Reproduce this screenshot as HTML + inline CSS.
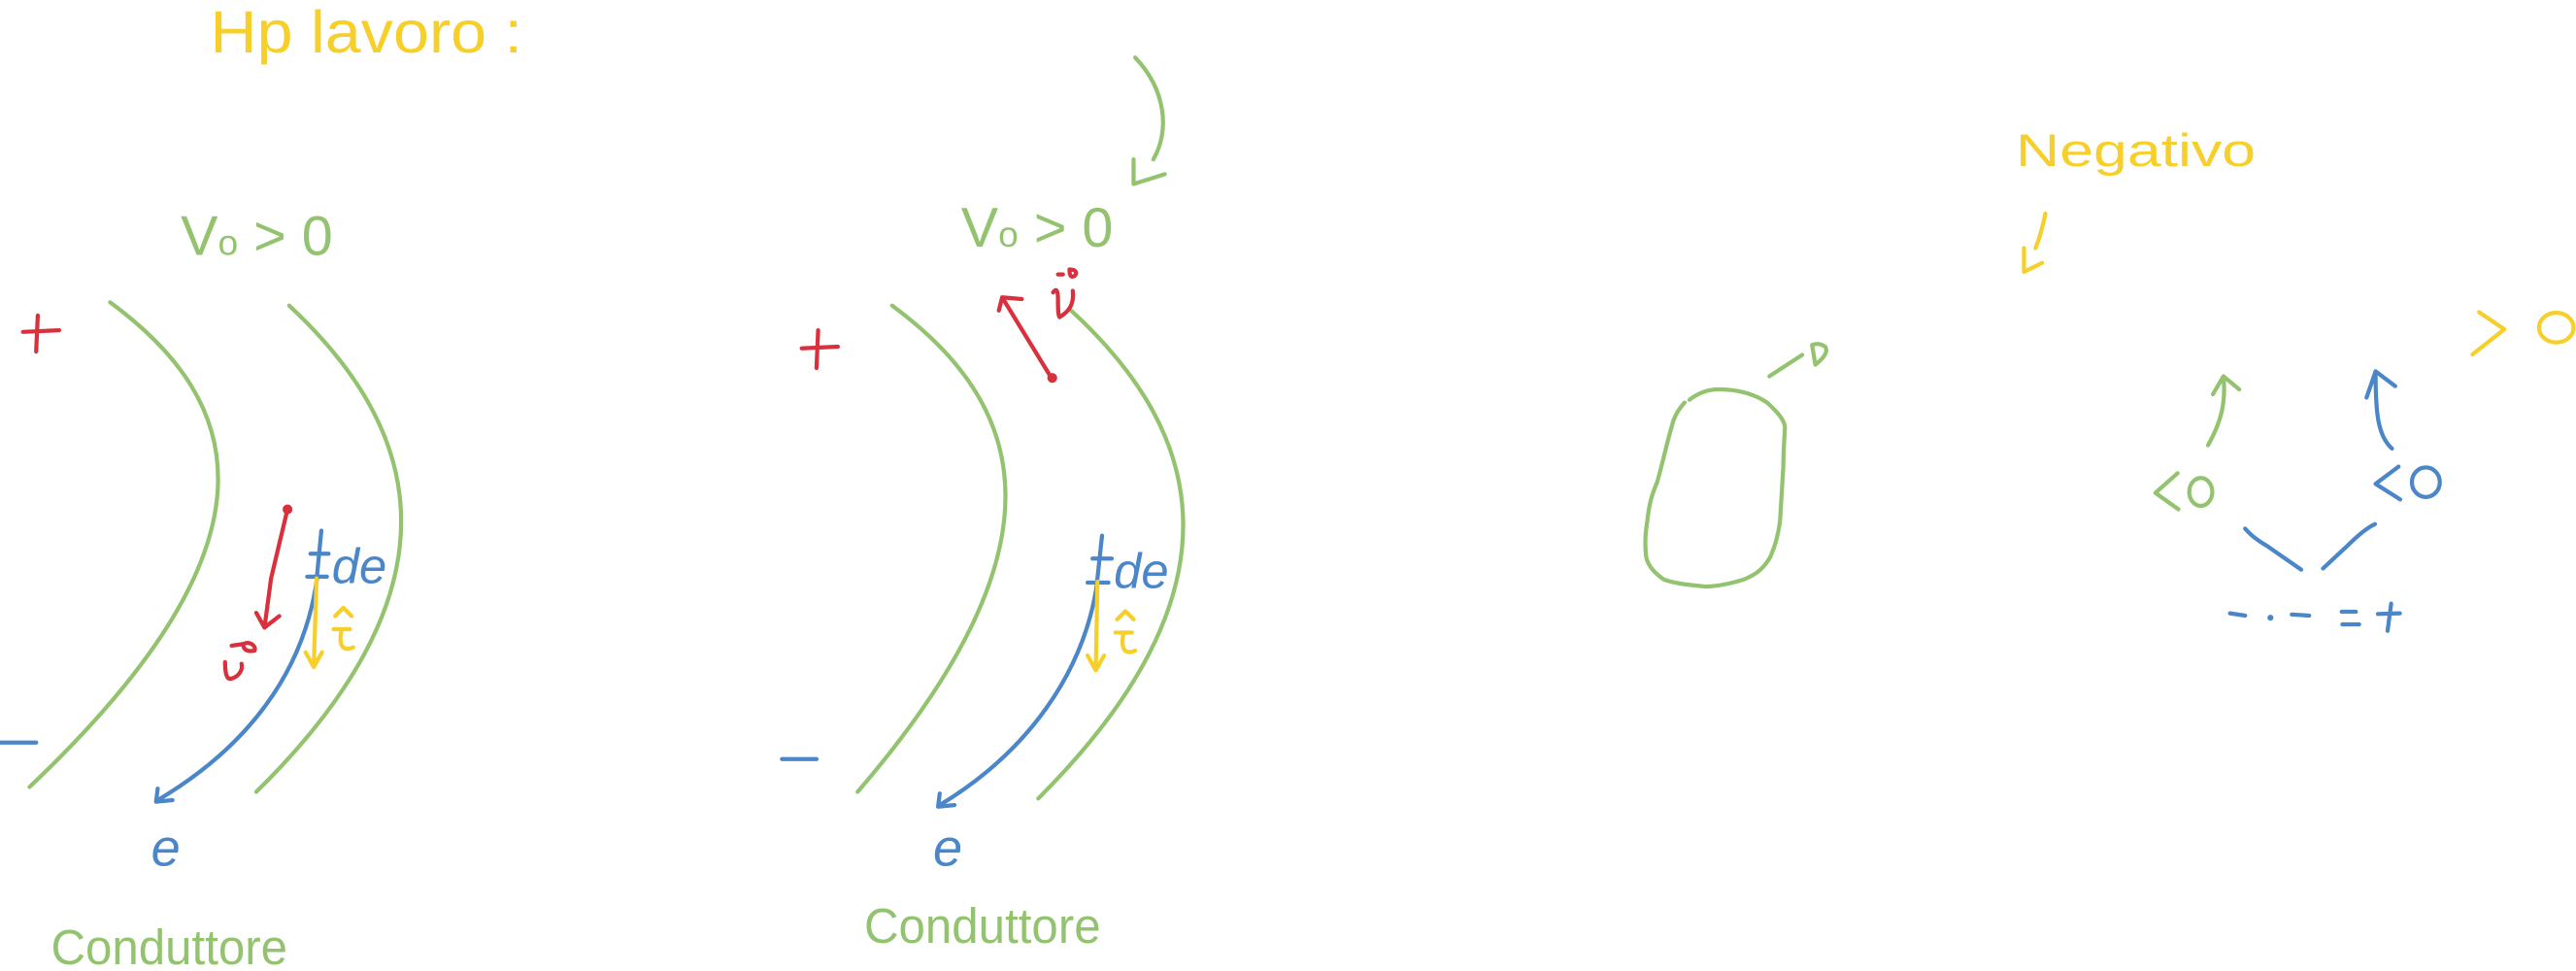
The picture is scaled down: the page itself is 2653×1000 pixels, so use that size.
<!DOCTYPE html>
<html><head><meta charset="utf-8"><style>
html,body{margin:0;padding:0;background:#fff;}
svg{display:block;}
text{font-family:"Liberation Sans",sans-serif;}
</style></head><body>
<svg width="2653" height="1000" viewBox="0 0 1568 591" fill="none" stroke-linecap="round" stroke-linejoin="round" stroke-width="2.5">
<!-- title -->
<text x="128" y="32" font-size="36" textLength="190" lengthAdjust="spacingAndGlyphs" fill="#f7cf2a" stroke="none">Hp lavoro :</text>

<!-- LEFT DIAGRAM -->
<g>
<path d="M14 202 L36 201 M23 192 L22 214" stroke="#d9303e"/>
<text x="110" y="155" font-size="34" fill="#93c36f" stroke="none">V<tspan font-size="22">o</tspan> &gt; 0</text>
<path d="M67 184 C150 245 175 330 18 479" stroke="#93c36f"/>
<path d="M176 186 C250 255 290 350 156 482" stroke="#93c36f"/>
<path d="M0 452 L22 452" stroke="#4a86c8"/>
<path d="M175 310 L165 352 L161 382 M156 373 L161 382 L170 375" stroke="#d9303e"/>
<circle cx="175" cy="310" r="3" fill="#d9303e" stroke="none"/>
<path d="M141 393 L148 392 M148 392 C152 390 156 393 155 396 C150 397 148 395 148 392 M137 403 C137 410 138 414 141 413 C145 412 148 408 147 404" stroke="#d9303e"/>
<path d="M195.6 323 L192.7 353 M189 337 L200 337 M187 351 L199 351" stroke="#4a86c8"/>
<text x="202" y="355" font-size="30" font-style="italic" fill="#4a86c8" stroke="none">de</text>
<path d="M193 352 C185 410 150 455 96 487 M96 480 L95 488 L105 487" stroke="#4a86c8"/>
<text x="92" y="527" font-size="32" font-style="italic" fill="#4a86c8" stroke="none">e</text>
<path d="M192.7 352 L191 405 M186 397 L191 406 L196 397" stroke="#f7cf2a"/>
<path d="M204 375 L209 370 L214 375 M203 383 L213 383 M208 383 C206 392 208 397 215 394" stroke="#f7cf2a"/>
<text x="31" y="587" font-size="30" textLength="144" lengthAdjust="spacingAndGlyphs" fill="#93c36f" stroke="none">Conduttore</text>
</g>

<!-- MIDDLE DIAGRAM -->
<g>
<path d="M691 35 C710 55 712 80 702 97 M690 97 L690 112 L709 106" stroke="#93c36f"/>
<path d="M488 212 L510 211 M498 201 L497 224" stroke="#d9303e"/>
<text x="585" y="150" font-size="34" fill="#93c36f" stroke="none">V<tspan font-size="22">o</tspan> &gt; 0</text>
<path d="M543 186 C626 247 651 332 522 482" stroke="#93c36f"/>
<path d="M652 189 C726 257 766 352 632 486" stroke="#93c36f"/>
<path d="M476 462 L497 462" stroke="#4a86c8"/>
<path d="M640 230 L610 181 M608 189 L610 181 L622 182" stroke="#d9303e"/>
<circle cx="640.5" cy="230" r="3" fill="#d9303e" stroke="none"/>
<path d="M644 167 L647 167 M651 164 C651 168 652 169 654 168 C656 166 655 164 651 164 M641 178 C643 175 644 177 644 182 C644 187 644 192 645 193 C650 190 654 186 653 177" stroke="#d9303e"/>
<path d="M670.8 326 L667.8 354 M665 340 L676.7 340 M662 354.6 L674.7 354.6" stroke="#4a86c8"/>
<text x="678" y="358" font-size="30" font-style="italic" fill="#4a86c8" stroke="none">de</text>
<path d="M668 354 C660 410 625 458 572 490 M572 483 L571 491 L581 490" stroke="#4a86c8"/>
<text x="568" y="527" font-size="32" font-style="italic" fill="#4a86c8" stroke="none">e</text>
<path d="M668 354 L667 407 M662 399 L667 408 L672 399" stroke="#f7cf2a"/>
<path d="M680 377 L685 372 L690 377 M679 385 L689 385 M684 385 C682 394 684 399 691 396" stroke="#f7cf2a"/>
<text x="526" y="574" font-size="30" textLength="144" lengthAdjust="spacingAndGlyphs" fill="#93c36f" stroke="none">Conduttore</text>
</g>

<!-- RIGHT PART -->
<g>
<path d="M1028.4 243.3 C1034 239 1040 237 1046 237 C1058 237 1068 240 1075.6 245 C1081 250 1086 255 1086.5 260 C1086 270 1085.5 275 1085.5 284 C1084.5 300 1084 310 1083.5 317 C1082 328 1080 333 1077.6 339 C1073 347 1068 350 1061.8 352.6 C1054 355 1046 357 1038 357 C1028 356 1018 355 1012.6 352.6 C1006 348 1002 343 1001.8 337 C1001 328 1002 322 1002.7 317 C1004 305 1006 300 1008.7 293.5 C1012 282 1015 268 1017.5 260 C1019 253 1022 249 1025.4 245" stroke="#93c36f"/>
<path d="M1077 229 L1097 216 M1103 210 L1105 222 C1110 218 1113 214 1111 211 C1108 209 1105 209 1103 210" stroke="#93c36f"/>
<text x="1227" y="101" font-size="28" textLength="146" lengthAdjust="spacingAndGlyphs" fill="#f7cf2a" stroke="none">Negativo</text>
<path d="M1245 130 C1243 140 1241 146 1239 151 M1232 151 L1232 165.5 L1243 160" stroke="#f7cf2a"/>
<path d="M1509 190 L1524.4 200.4 L1505 215.7" stroke="#f7cf2a"/>
<ellipse cx="1556" cy="199.4" rx="10.5" ry="9" stroke="#f7cf2a"/>
<path d="M1344 271 C1352 257 1355 245 1353.4 229 M1347 240 L1353.4 229 L1363 237" stroke="#93c36f"/>
<path d="M1325.5 288 L1312 300 L1326 310" stroke="#93c36f"/>
<ellipse cx="1339.6" cy="299.4" rx="7" ry="8.5" stroke="#93c36f"/>
<path d="M1456 273 C1447 265 1446 250 1446 226 M1440.5 242 L1446 226 L1458 235" stroke="#4a86c8"/>
<path d="M1460 284 L1446 294.5 L1461 304" stroke="#4a86c8"/>
<ellipse cx="1476.6" cy="293.5" rx="8.5" ry="9" stroke="#4a86c8"/>
<path d="M1366.6 321.7 C1372 328 1378 331 1381 333 L1400.7 346.7 M1414 346 L1428 333 C1436 325 1441 321 1445.6 319" stroke="#4a86c8"/>
<path d="M1357.4 373.3 L1366.6 374.7 M1395 374 L1405.6 374.7 M1425.4 372.3 L1434 372.3 M1425.8 380 L1436 380 M1447.4 373.7 L1460.8 373.3 M1455.5 367.4 L1453.3 384" stroke="#4a86c8"/>
<circle cx="1382" cy="376" r="1.8" fill="#4a86c8" stroke="none"/>
</g>
</svg>
</body></html>
